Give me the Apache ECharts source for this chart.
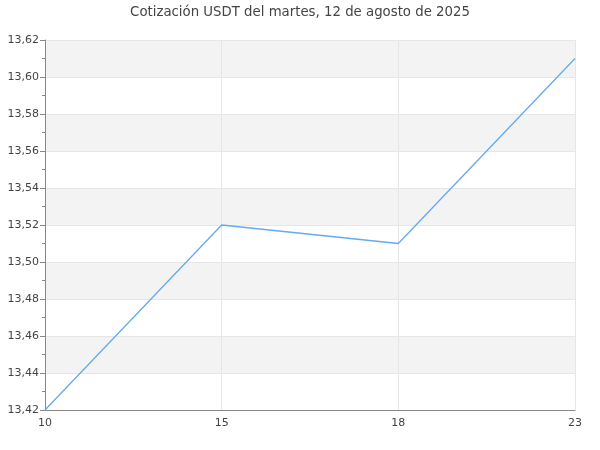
<!DOCTYPE html>
<html><head><meta charset="utf-8">
<script src="https://cdn.jsdelivr.net/npm/echarts@6/dist/echarts.min.js"></script>
<style>html,body{margin:0;padding:0;background:#fff}#c{width:600px;height:450px}</style>
</head><body><div id="c"></div>
<script>
var categories = ['10', '15', '18', '23'];
var values = [13.42, 13.52, 13.51, 13.61];
var titleText = 'Cotización USDT del martes, 12 de agosto de 2025';

var chart = echarts.init(document.getElementById('c'), null, {renderer: 'canvas'});
chart.setOption({
  animation: false,
  textStyle: {fontFamily: 'DejaVu Sans'},
  title: {
    text: titleText, left: 'center', top: 1,
    textStyle: {fontFamily: 'DejaVu Sans', fontSize: 13.3, fontWeight: 'normal', color: '#444'}
  },
  grid: {left: 45, right: 25, top: 40, bottom: 40, containLabel: false},
  xAxis: {
    type: 'category', data: categories, boundaryGap: false,
    axisLine: {lineStyle: {color: '#888'}},
    axisTick: {show: false},
    axisLabel: {color: '#444', fontSize: 11, margin: 8},
    splitLine: {show: true, lineStyle: {color: '#e6e6e6'}}
  },
  yAxis: {
    type: 'value', min: 13.42, max: 13.62, interval: 0.02,
    axisLine: {show: true, lineStyle: {color: '#888'}},
    axisTick: {show: true, length: 5, lineStyle: {color: '#888'}},
    minorTick: {show: true, splitNumber: 2, length: 3, lineStyle: {color: '#888'}},
    axisLabel: {color: '#444', fontSize: 11, margin: 6,
      formatter: function (v) { return v.toFixed(2).replace('.', ','); }},
    splitLine: {show: true, lineStyle: {color: '#e6e6e6'}},
    splitArea: {show: true, areaStyle: {color: ['#ffffff', '#f3f3f3']}}
  },
  series: [{
    type: 'line', data: values, showSymbol: false, symbol: 'none',
    lineStyle: {color: '#64aaf0', width: 1.3}
  }]
});
</script></body></html>
